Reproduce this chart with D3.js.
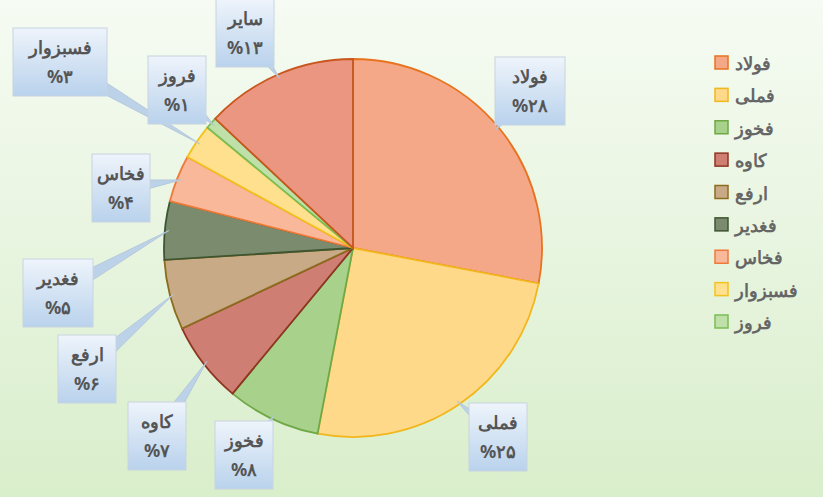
<!DOCTYPE html><html><head><meta charset="utf-8">
<script src="https://cdn.jsdelivr.net/npm/d3@7"></script>
<style>body{margin:0;}svg{display:block;font-family:"Noto Sans",sans-serif;}</style></head><body>
<svg id="c" width="823" height="497"></svg>
<script>
const categories=["فولاد","فملی","فخوز","کاوه","ارفع","فغدیر","فخاس","فسبزوار","فروز","سایر"];
const values=[28,25,8,7,6,5,4,3,1,13];
const pctLabels=["%۲۸","%۲۵","%۸","%۷","%۶","%۵","%۴","%۳","%۱","%۱۳"];
const fills=["#f5a888","#ffd98a","#a8d28c","#cf7e74","#c8aa86","#7b8c6e","#f9b899","#ffe08e","#bfe0a8","#ea9680"];
const strokes=["#e8731f","#f2b71c","#6fa845","#8e3520","#8c6c1e","#3e5530","#ee7a3a","#f3c21c","#7bbd55","#c8561d"];
const boxC=[[530,91],[498,437],[244,455],[157,436],[87,369],[58,293],[121,188],[60,62],[177,90],[245,33]];

const svg=d3.select("#c");
const defs=svg.append("defs");
const bg=defs.append("linearGradient").attr("id","bg").attr("x1",0).attr("y1",0).attr("x2",0).attr("y2",1);
bg.append("stop").attr("offset",0).attr("stop-color","#f6fbf3");
bg.append("stop").attr("offset",1).attr("stop-color","#d9eecb");
const bx=defs.append("linearGradient").attr("id","bx").attr("x1",0).attr("y1",0).attr("x2",0).attr("y2",1);
bx.append("stop").attr("offset",0).attr("stop-color","#eef4fb");
bx.append("stop").attr("offset",1).attr("stop-color","#b9d2ec");
svg.append("rect").attr("width",823).attr("height",497).attr("fill","url(#bg)");

const cx=353,cy=248,r=189;
const pie=d3.pie().sort(null).value(d=>d)(values);
const arc=d3.arc().innerRadius(0).outerRadius(r);
const g=svg.append("g").attr("transform",`translate(${cx},${cy})`);

const lg=svg.append("g");
pie.forEach((p,i)=>{
  const a=(p.startAngle+p.endAngle)/2;
  const tip=[cx+Math.sin(a)*(r-4),cy-Math.cos(a)*(r-4)];
  const [bxX,bxY]=boxC[i];
  const dx=tip[0]-bxX,dy=tip[1]-bxY;
  const L=Math.hypot(dx,dy),nx=-dy/L*8,ny=dx/L*8;
  lg.append("path").attr("d",`M${bxX+nx},${bxY+ny}L${tip[0]},${tip[1]}L${bxX-nx},${bxY-ny}Z`)
    .attr("fill","#bcd2e8").attr("stroke","#b0c4d8").attr("stroke-width",0.8);
});

g.selectAll("path").data(pie).join("path").attr("d",arc)
  .attr("fill",(d,i)=>fills[i]).attr("stroke",(d,i)=>strokes[i]).attr("stroke-width",1.8);

const bg2=svg.append("g");
pie.forEach((p,i)=>{
  const [x,y]=boxC[i];
  const w=Math.max(50,categories[i].length*12+10),h=68;
  bg2.append("rect").attr("x",x-w/2).attr("y",y-h/2).attr("width",w).attr("height",h)
    .attr("fill","url(#bx)").attr("stroke","#c8d4e0").attr("stroke-width",1);
  bg2.append("text").attr("x",x).attr("y",y-8).attr("text-anchor","middle").attr("direction","rtl")
    .attr("font-size",18).attr("font-weight","bold").attr("fill","#555").text(categories[i]);
  bg2.append("text").attr("x",x).attr("y",y+21).attr("text-anchor","middle")
    .attr("font-size",18).attr("font-weight","bold").attr("fill","#555").text(pctLabels[i]);
});

const leg=svg.append("g");
const ly=d3.scalePoint().domain(categories.slice(0,9)).range([63,322]);
categories.slice(0,9).forEach((c,i)=>{
  const y=ly(c);
  leg.append("rect").attr("x",715).attr("y",y-7).attr("width",13).attr("height",13)
    .attr("fill",fills[i]).attr("stroke",strokes[i]).attr("stroke-width",1.5);
  leg.append("text").attr("x",735).attr("y",y+7).attr("font-size",18).attr("font-weight","bold")
    .attr("fill","#666").text(c);
});
</script></body></html>
